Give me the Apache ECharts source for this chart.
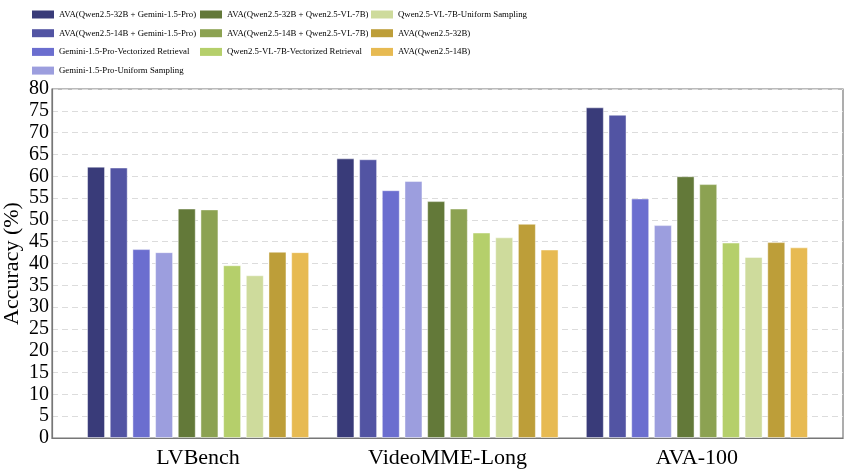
<!DOCTYPE html>
<html>
<head>
<meta charset="utf-8">
<script src="https://cdn.jsdelivr.net/npm/echarts@6/dist/echarts.min.js"></script>
<style>html,body{margin:0;padding:0;background:#fff}#c{width:847px;height:472px}</style>
</head>
<body>
<div id="c"></div>
<script>
const categories = ['LVBench', 'VideoMME-Long', 'AVA-100'];
const seriesNames = [
  'AVA(Qwen2.5-32B + Gemini-1.5-Pro)',
  'AVA(Qwen2.5-14B + Gemini-1.5-Pro)',
  'Gemini-1.5-Pro-Vectorized Retrieval',
  'Gemini-1.5-Pro-Uniform Sampling',
  'AVA(Qwen2.5-32B + Qwen2.5-VL-7B)',
  'AVA(Qwen2.5-14B + Qwen2.5-VL-7B)',
  'Qwen2.5-VL-7B-Vectorized Retrieval',
  'Qwen2.5-VL-7B-Uniform Sampling',
  'AVA(Qwen2.5-32B)',
  'AVA(Qwen2.5-14B)'
];
const ava32Gemini = [62.2, 64.1, 75.8];
const ava14Gemini = [62.0, 63.9, 74.1];
const geminiVector = [43.3, 56.8, 54.9];
const geminiUniform = [42.6, 58.9, 48.8];
const ava32Qwen = [52.6, 54.3, 60.0];
const ava14Qwen = [52.4, 52.6, 58.2];
const qwenVector = [39.6, 47.1, 44.8];
const qwenUniform = [37.3, 46.0, 41.5];
const ava32 = [42.7, 49.1, 44.9];
const ava14 = [42.6, 43.2, 43.7];
const seriesValues = [ava32Gemini, ava14Gemini, geminiVector, geminiUniform, ava32Qwen, ava14Qwen, qwenVector, qwenUniform, ava32, ava14];
const colors = ['#393b79', '#5254a3', '#6b6ecf', '#9c9ede', '#637939', '#8ca252', '#b5cf6b', '#cedb9c', '#bd9e39', '#e7ba52'];
const yTicks = {min: 0, max: 80, interval: 5};

const FONT = 'Liberation Serif';
const chart = echarts.init(document.getElementById('c'), null, {renderer: 'canvas'});

const legendBase = {
  orient: 'vertical', itemWidth: 22, itemHeight: 8, itemGap: 9.7, padding: 0,
  icon: 'rect',
  itemStyle: {borderWidth: 0},
  textStyle: {fontFamily: FONT, fontSize: 8.8, color: '#000'},
  selectedMode: false
};

const option = {
  animation: false,
  color: colors,
  legend: [
    Object.assign({}, legendBase, {left: 32, top: 10, data: seriesNames.slice(0, 4)}),
    Object.assign({}, legendBase, {left: 200, top: 10, data: seriesNames.slice(4, 7)}),
    Object.assign({}, legendBase, {left: 371, top: 10, data: seriesNames.slice(7, 10)})
  ],
  grid: [
    {left: 52, right: 4, top: 89, bottom: 34, show: true, borderColor: '#777', borderWidth: 1.2,
     containLabel: false, outerBoundsMode: 'none'},
    {left: 73.4, right: 25.4, top: 89, bottom: 34, containLabel: false, outerBoundsMode: 'none'}
  ],
  xAxis: [
    {type: 'category', gridIndex: 0, data: [''], axisLabel: {show: false}, axisTick: {show: false},
     axisLine: {lineStyle: {color: '#777', width: 1.2}}, splitLine: {show: false}},
    {type: 'category', gridIndex: 1, data: categories, axisTick: {show: false}, axisLine: {show: false},
     axisLabel: {fontFamily: FONT, fontSize: 22, color: '#000', margin: 9}}
  ],
  yAxis: [
    {type: 'value', gridIndex: 0, min: yTicks.min, max: yTicks.max, interval: yTicks.interval,
     name: 'Accuracy (%)', nameLocation: 'middle', nameGap: 29, nameMoveOverlap: false,
     nameTextStyle: {fontFamily: FONT, fontSize: 22, color: '#000'},
     axisLine: {show: true, lineStyle: {color: '#777', width: 1.2}}, axisTick: {show: false},
     axisLabel: {fontFamily: FONT, fontSize: 20, color: '#000', margin: 3},
     splitLine: {show: true, lineStyle: {type: [6, 4], color: '#dcdcdc', width: 1}}},
    {type: 'value', gridIndex: 1, min: yTicks.min, max: yTicks.max, interval: yTicks.interval, show: false,
     splitLine: {show: false}}
  ],
  series: seriesNames.map((n, i) => ({
    name: n, type: 'bar', xAxisIndex: 1, yAxisIndex: 1,
    data: seriesValues[i], barWidth: 18, barGap: '26%',
    itemStyle: {color: colors[i], borderColor: 'rgba(255,255,255,0.45)', borderWidth: 1}
  }))
};
chart.setOption(option);
</script>
</body>
</html>
